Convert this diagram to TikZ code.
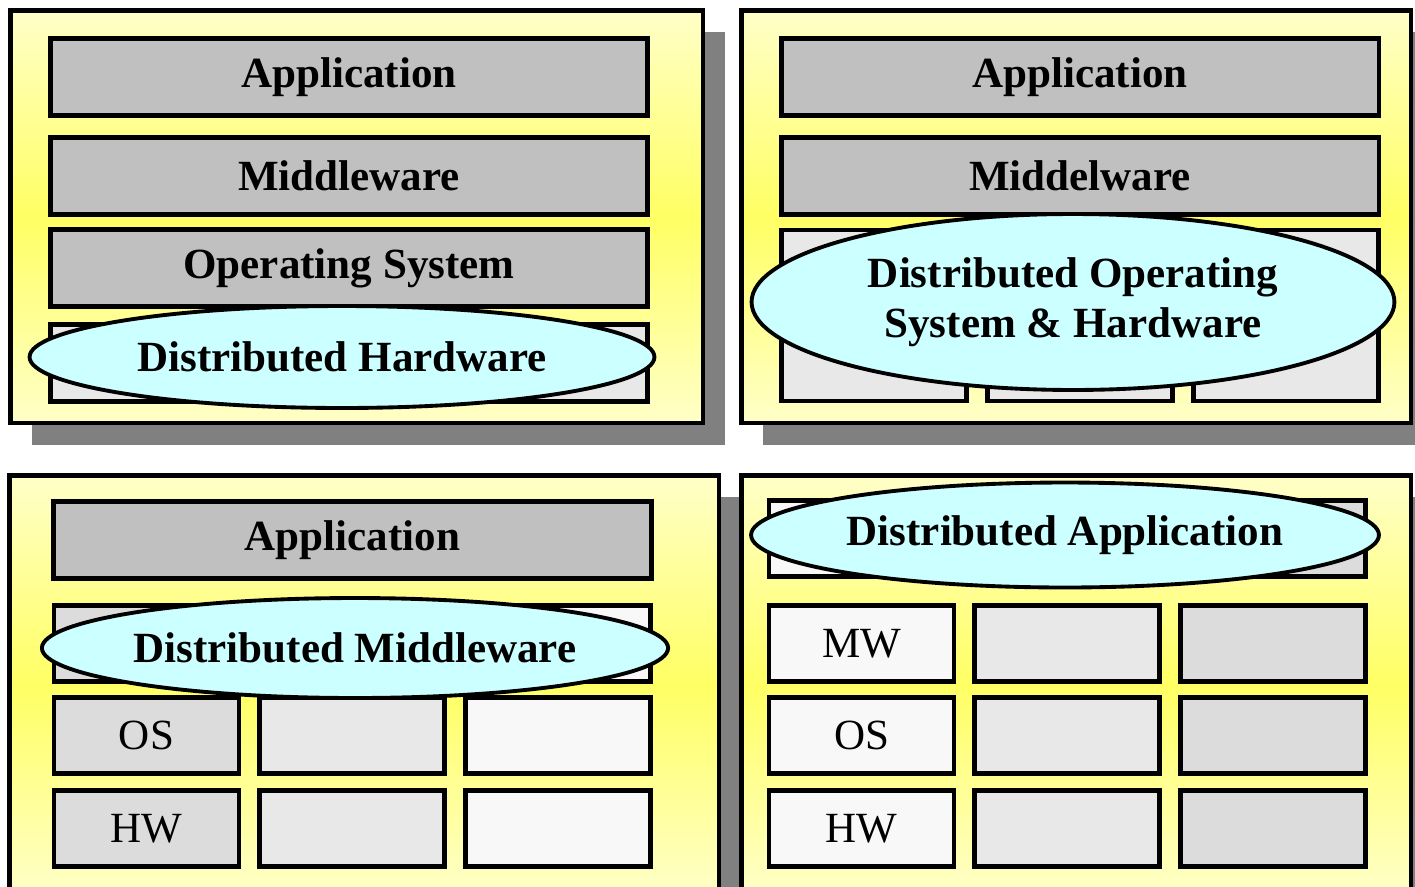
\documentclass[tikz,border=0pt]{standalone}
\usepackage{fontspec}
\setmainfont{Liberation Serif}
\usetikzlibrary{shapes.geometric, positioning, shadows}

\definecolor{paleyel}{RGB}{255,255,200}
\definecolor{brightyel}{RGB}{255,255,100}
\definecolor{bargray}{RGB}{192,192,192}
\definecolor{cellA}{RGB}{220,220,220}
\definecolor{cellB}{RGB}{232,232,232}
\definecolor{cellC}{RGB}{248,248,248}
\definecolor{cloud}{RGB}{204,255,255}
\definecolor{shadowgray}{RGB}{128,128,128}

\begin{document}
\begin{tikzpicture}[
        x=0.02cm, y=-0.02cm,
        node distance=0.23cm and 0.32cm,
        panel/.style={draw, line width=2.6pt, anchor=north west, top color=paleyel, bottom color=paleyel, middle color=brightyel, minimum height=8.26cm, drop shadow={shadow xshift=0.44cm, shadow yshift=-0.44cm, fill=shadowgray, opacity=1}},
        bar/.style={draw, line width=2.8pt, fill=bargray, minimum width=11.96cm, minimum height=1.54cm, font=\fontsize{24.5}{28.5}\selectfont\bfseries},
        cell/.style={draw, line width=2.8pt, minimum width=3.7cm, minimum height=1.52cm, font=\fontsize{24.5}{28.5}\selectfont},
        dist/.style={ellipse, draw, line width=2.2pt, fill=cloud, inner sep=0pt, align=center, font=\fontsize{24.5}{28.5}\selectfont\bfseries}
    ]
        \useasboundingbox (0,0) rectangle (1415,886);

        \node[panel, minimum width=13.86cm] (tl) at (8,8) {};
        \node[panel, minimum width=13.4cm] (tr) at (739,8) {};
        \node[panel, minimum width=14.2cm, minimum height=8.4cm] (bl) at (7,473) {};
        \node[panel, minimum width=13.4cm, minimum height=8.4cm] (br) at (739,473) {};

        % layered stack with distributed hardware
        \node[bar] (app1) at (349,77) {Application};
        \node[bar] (mw1) at (349,176) {Middleware};
        \node[bar] (os1) at (349,268) {Operating System};
        \node[bar, fill=cellB] (hw1) at (349,363) {};
        \node[dist, minimum width=12.5cm, minimum height=2.04cm] (dhw) at (342,357) {Distributed Hardware};

        % distributed operating system
        \node[bar] (app2) at (1080,77) {Application};
        \node[bar] (mw2) at (1080,176) {Middelware};
        \node[cell, fill=cellB, minimum height=3.42cm] (col2a) at (874,315.5) {};
        \node[cell, fill=cellB, minimum height=3.42cm, right=of col2a] (col2b) {};
        \node[cell, fill=cellB, minimum height=3.42cm, right=of col2b] (col2c) {};
        \node[dist, minimum width=12.86cm, minimum height=3.52cm] (dos) at (1073,302) {Distributed Operating\\System \& Hardware};

        % distributed middleware
        \node[bar] (app3) at (352.5,540) {Application};
        \node[cell, fill=cellA] (mw3a) at (146.5,643.5) {};
        \node[cell, fill=cellB, right=of mw3a] (mw3b) {};
        \node[cell, fill=cellC, right=of mw3b] (mw3c) {};
        \node[cell, fill=cellA, below=of mw3a] (os3a) {OS};
        \node[cell, fill=cellB, right=of os3a] (os3b) {};
        \node[cell, fill=cellC, right=of os3b] (os3c) {};
        \node[cell, fill=cellA, below=of os3a] (hw3a) {HW};
        \node[cell, fill=cellB, right=of hw3a] (hw3b) {};
        \node[cell, fill=cellC, right=of hw3b] (hw3c) {};
        \node[dist, minimum width=12.5cm, minimum height=2cm] (dmw) at (355,648) {Distributed Middleware};

        % distributed application
        \node[cell, fill=cellC] (da4a) at (861.5,538.5) {};
        \node[cell, fill=cellB, right=of da4a] (da4b) {};
        \node[cell, fill=cellA, right=of da4b] (da4c) {};
        \node[cell, fill=cellC] (mw4a) at (861.5,643.5) {MW};
        \node[cell, fill=cellB, right=of mw4a] (mw4b) {};
        \node[cell, fill=cellA, right=of mw4b] (mw4c) {};
        \node[cell, fill=cellC, below=of mw4a] (os4a) {OS};
        \node[cell, fill=cellB, right=of os4a] (os4b) {};
        \node[cell, fill=cellA, right=of os4b] (os4c) {};
        \node[cell, fill=cellC, below=of os4a] (hw4a) {HW};
        \node[cell, fill=cellB, right=of hw4a] (hw4b) {};
        \node[cell, fill=cellA, right=of hw4b] (hw4c) {};
        \node[dist, minimum width=12.56cm, minimum height=2.1cm] (dapp) at (1065,535) {Distributed Application};

    \end{tikzpicture}
\end{document}
